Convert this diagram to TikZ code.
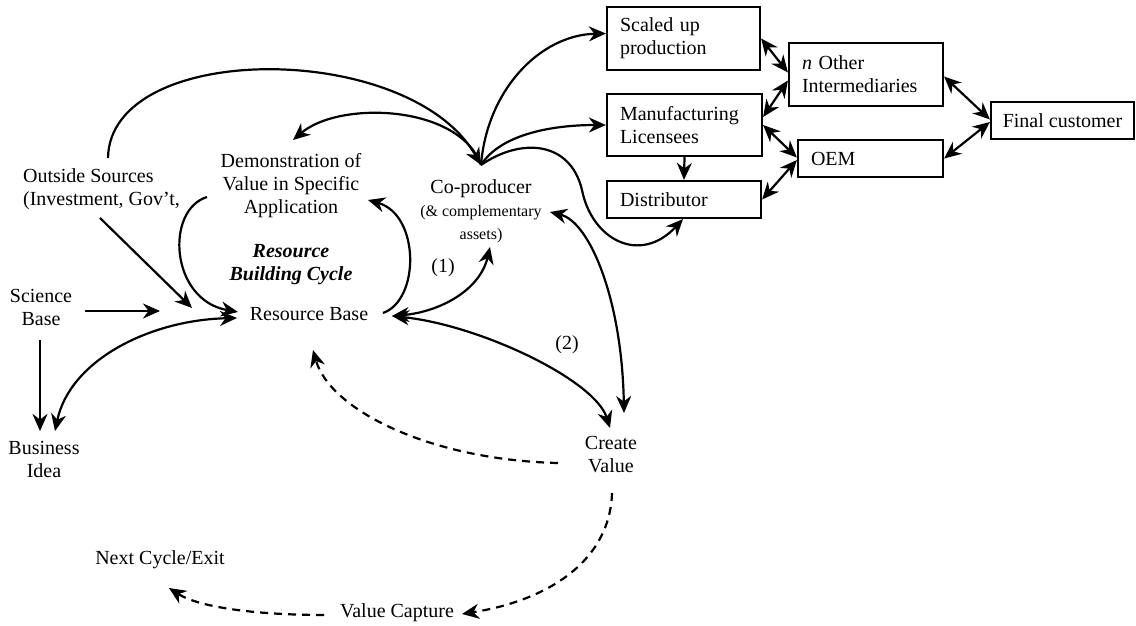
\documentclass[tikz,border=0pt]{standalone}
\usepackage{fontspec}
\setmainfont{Liberation Serif}
\usetikzlibrary{arrows.meta}
\tikzset{
  myhead/.tip={Stealth[length=17pt,width=15pt,inset=5.5pt]},
  arr/.style={arrows={-myhead}},
  darr/.style={arrows={myhead-myhead}},
  lbl/.style={inner sep=0pt,align=center,font=\fontsize{20}{23}\selectfont},
  box/.style={draw,line width=2.2pt,inner xsep=13pt,inner ysep=0pt,align=left,font=\fontsize{20}{23}\selectfont},
  dsh/.style={dash pattern=on 8pt off 6pt}}
\begin{document}
\begin{tikzpicture}[x=1pt,y=-1pt,line width=2.2pt]
\useasboundingbox (0,0) rectangle (1136,626);

% boxes
\node[box,text width=127pt,minimum height=63pt] (su) at (683.5,38.5) {Scaled up\\production};
\node[box,text width=129pt,minimum height=62pt] (ml) at (684.5,125) {Manufacturing\\Licensees};
\node[box,text width=128pt,minimum height=37pt] (di) at (684,199.5) {Distributor};
\node[box,text width=128pt,minimum height=63pt] (no) at (866,74.5) {\textit{n} Other\\Intermediaries};
\node[box,text width=119pt,minimum height=37pt] (oem) at (870.5,158.5) {OEM};
\node[box,inner xsep=0pt,minimum width=143pt,minimum height=37pt,align=center] (fc) at (1062.5,120.5) {Final customer};

% text nodes
\node[lbl,align=left,anchor=west] (os) at (22,189) {Outside Sources\\(Investment, Gov't,};
\node[lbl] (demo) at (291,186) {Demonstration of\\Value in Specific\\Application};
\node[lbl,font=\fontsize{20}{23}\selectfont\bfseries\itshape] (cyc) at (291,265) {Resource\\Building Cycle};
\node[lbl] (rb) at (309,314) {Resource Base};
\node[lbl] (cop) at (481,211) {Co-producer\\{\fontsize{16}{18}\selectfont (\& complementary}\\{\fontsize{16}{18}\selectfont assets)}};
\node[lbl] (l1) at (443,268) {(1)};
\node[lbl] (l2) at (567,345) {(2)};
\node[lbl] (sci) at (41,307) {Science\\Base};
\node[lbl] (biz) at (44,459) {Business\\Idea};
\node[lbl] (cv) at (611,455) {Create\\Value};
\node[lbl] (vc) at (397,613) {Value Capture};
\node[lbl] (nc) at (160,560) {Next Cycle/Exit};

% named coordinates for free ends
\coordinate (cptop) at (481,165);
\coordinate (ostop) at (108,158);
\coordinate (osbot) at (100,218);
\coordinate (otip) at (192,308);
\coordinate (scir) at (85,311);
\coordinate (scitip) at (160,311);
\coordinate (scib) at (40,340);
\coordinate (biztA) at (40,431);
\coordinate (biztB) at (55,431);
\coordinate (rbwA) at (238,312);
\coordinate (rbwB) at (237,318);
\coordinate (demosw) at (207,197);
\coordinate (rbeA) at (383,313);
\coordinate (demose) at (368,200);
\coordinate (demon) at (293,140);
\coordinate (rbeB) at (392,316);
\coordinate (cops) at (490,247);
\coordinate (cope) at (550,212);
\coordinate (cvnA) at (610,428);
\coordinate (cvnB) at (624,413);
\coordinate (cvw) at (558,463);
\coordinate (rbs) at (313,350);
\coordinate (cvs) at (612,493);
\coordinate (vce) at (462,614);
\coordinate (vcw) at (324,615);
\coordinate (ncse) at (169,588);

% box connectors
\draw[darr] (su.east) -- ([yshift=2pt]no.west);
\draw[darr] ([yshift=-6pt]no.west) -- ([yshift=8pt]ml.east);
\draw[darr] (ml.east) -- ([yshift=1pt]oem.west);
\draw[darr] (di.east) -- ([yshift=-1.5pt]oem.west);
\draw[darr] ([yshift=-2pt]no.east) -- ([yshift=1pt]fc.west);
\draw[darr] (oem.east) -- ([yshift=-1.5pt]fc.west);
\draw[arr] (ml.south) -- (di.north);

% co-producer connectors
\draw[arr] (cptop) .. controls (487,90) and (540,35) .. ([yshift=5pt]su.west);
\draw[arr] (cptop) .. controls (500,135) and (550,125) .. (ml.west);
\draw[arr] (cptop) .. controls (520,138) and (570,140) .. (582,190) .. controls (592,240) and (640,265) .. ([xshift=-1pt]di.south);
\draw[arr] (ostop) .. controls (110,40) and (410,40) .. (cptop);
\draw[arr] (cptop) .. controls (460,105) and (340,100) .. (demon);

% resource building cycle
\draw[arr] (demosw) .. controls (165,210) and (170,300) .. (rbwA);
\draw[arr] (rbeA) .. controls (420,300) and (420,215) .. (demose);
\draw[darr] (rbeB) .. controls (440,312) and (480,290) .. (cops);
\draw[darr] (rbeB) .. controls (480,325) and (595,380) .. (cvnA);
\draw[darr] (cope) .. controls (590,222) and (622,300) .. (cvnB);

% left side
\draw[arr] (osbot) -- (otip);
\draw[arr] (scir) -- (scitip);
\draw[arr] (scib) -- (biztA);
\draw[darr] (biztB) .. controls (70,360) and (150,320) .. (rbwB);

% dashed
\draw[arr,dsh] (cvw) .. controls (430,460) and (330,410) .. (rbs);
\draw[arr,dsh] (cvs) .. controls (610,560) and (550,600) .. (vce);
\draw[arr,dsh] (vcw) .. controls (260,615) and (200,608) .. (ncse);
\end{tikzpicture}
\end{document}
